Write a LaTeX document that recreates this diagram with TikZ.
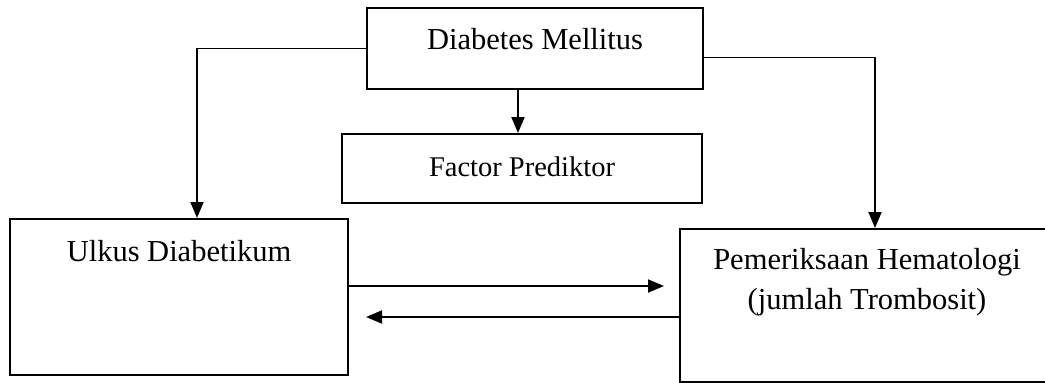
\documentclass[tikz,border=0pt]{standalone}
\usepackage{fontspec}
\setmainfont{Liberation Serif}
\usetikzlibrary{positioning,arrows.meta,calc}

\begin{document}
\begin{tikzpicture}[
  x=1pt, y=-1pt,
  box/.style={draw=black,line width=2pt,inner sep=0pt,align=center,font=\fontsize{30.5}{40}\selectfont},
  arrow/.style={-{Triangle[length=16pt,width=13pt]},line width=1.9pt,black}
]
\useasboundingbox (0,0) rectangle (1045,383);
\node[box, anchor=north, minimum width=336pt, text height=41pt, text depth=40pt] (dm) at (535,7) {Diabetes Mellitus};
\node[box, anchor=north, minimum width=360pt, text height=42pt, text depth=27pt, font=\fontsize{28.5}{34}\selectfont] (fp) at (522,133) {Factor Prediktor};
\node[box, anchor=north, minimum width=338pt, text height=42pt, text depth=114pt] (ulkus) at (179,218) {Ulkus Diabetikum};
\node[box, anchor=north, minimum width=374pt, text height=80pt, text depth=73pt] (hem) at (867,228) {Pemeriksaan Hematologi\\(jumlah Trombosit)};
\draw[arrow] (dm.west) -| ([xshift=18pt]ulkus.north);
\draw[arrow] ([yshift=-9pt]dm.east) -| ([xshift=8pt]hem.north);
\draw[arrow] ([xshift=-4pt]fp.north |- dm.south) -- ([xshift=-4pt]fp.north);
\draw[arrow, shorten >=15pt] ([yshift=11pt]ulkus.east) -- ([yshift=11pt]ulkus.east -| hem.west);
\draw[arrow, shorten >=17pt] ([yshift=-11.5pt]hem.west) -- ([yshift=-11.5pt]hem.west -| ulkus.east);
\end{tikzpicture}
\end{document}
